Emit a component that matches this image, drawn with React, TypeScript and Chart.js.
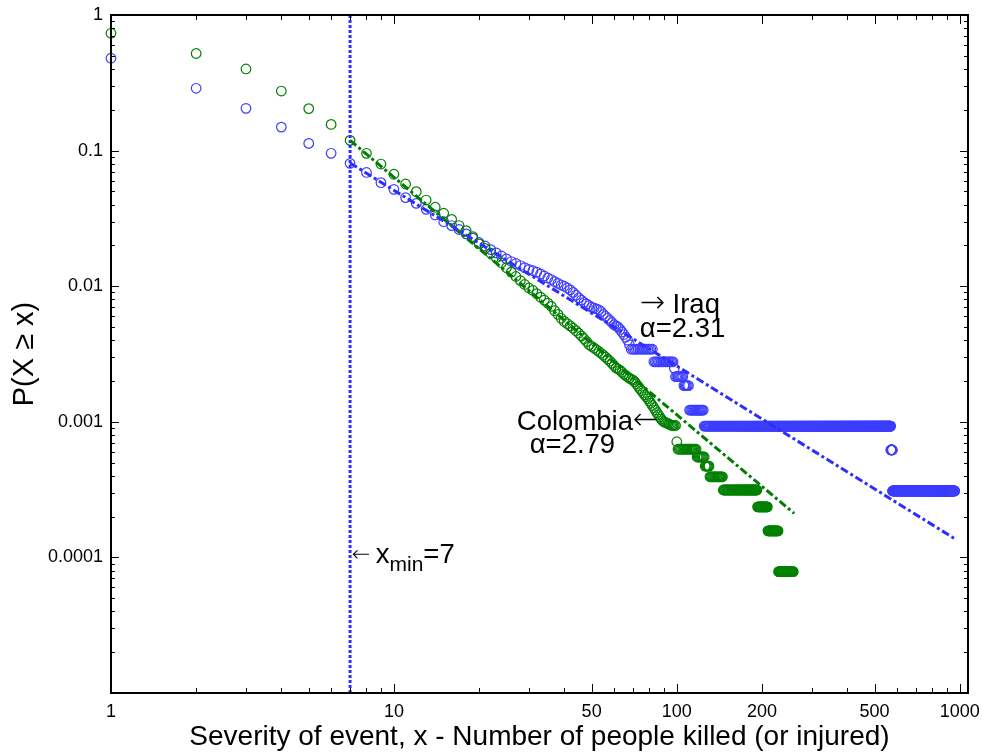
import React, { useEffect, useRef } from 'react';
import { Chart, registerables } from 'chart.js';

Chart.register(...registerables);

const FONT = '"Liberation Sans", Arial, Helvetica, sans-serif';
const ARROW_FONT = '"DejaVu Sans", "Liberation Sans", sans-serif';

// Axis ranges and tick labels
const X_MIN = 1;
const X_MAX = 1070;
const Y_MIN = 1e-5;
const Y_MAX = 1;
const xTickValues = [1, 10, 50, 100, 200, 500, 1000];
const yTickValues = [1, 0.1, 0.01, 0.001, 0.0001];

const xTitle = 'Severity of event, x - Number of people killed (or injured)';
const yTitle = 'P(X \u2265 x)';

// Iraq: P(X >= x) for x = 1, 2, 3, ...
const iraqHead = [
  0.48, 0.288, 0.205, 0.149, 0.113, 0.0955, 0.0805, 0.069, 0.058, 0.0518,
  0.045, 0.0408, 0.0369, 0.0335, 0.0299, 0.028, 0.0262, 0.0243, 0.0226, 0.021,
  0.0198, 0.0186, 0.0176, 0.0167, 0.0159, 0.0152, 0.0147, 0.0142, 0.0137, 0.0133,
  0.013, 0.0127, 0.0123, 0.0119, 0.0115, 0.0112, 0.0108, 0.0105, 0.0102, 0.01,
  0.0097, 0.0094, 0.009, 0.0086, 0.0082, 0.0079, 0.0076, 0.0074, 0.0072, 0.007,
  0.0069, 0.0068, 0.0067, 0.0065, 0.0062, 0.006, 0.0058, 0.0056, 0.0054, 0.0052,
  0.0051, 0.005, 0.0048, 0.0046, 0.0044, 0.0042, 0.004, 0.0037,
];
// Iraq tail plateaus: [first x, last x, P(X >= x)]
const iraqTailRuns = [
  [69, 82, 0.00343],
  [83, 97, 0.00277],
  [98, 98, 0.00248],
  [99, 105, 0.00215],
  [106, 110, 0.00185],
  [111, 124, 0.00122],
  [125, 570, 0.00093],
  [571, 578, 0.00062],
  [579, 960, 0.000309],
];

// Colombia: P(X >= x) for x = 1, 2, 3, ...
const colombiaHead = [
  0.733, 0.52, 0.4, 0.275, 0.204, 0.156, 0.119, 0.0955, 0.0796, 0.0669,
  0.0567, 0.0498, 0.0432, 0.0382, 0.0345, 0.0311, 0.028, 0.0257, 0.0232, 0.0205,
  0.019, 0.0175, 0.0162, 0.0149, 0.0137, 0.0127, 0.0118, 0.011, 0.0103, 0.0097,
  0.0093, 0.0088, 0.0083, 0.0079, 0.0075, 0.0071, 0.0066, 0.0062, 0.0058, 0.0055,
  0.0053, 0.0051, 0.0049, 0.0047, 0.0045, 0.0043, 0.0041, 0.0039, 0.0037, 0.0036,
  0.0035, 0.0034, 0.0033, 0.0032, 0.0031, 0.003, 0.0029, 0.0028, 0.0027, 0.0026,
  0.0025, 0.00245, 0.0024, 0.00232, 0.00225, 0.0022, 0.00214, 0.0021, 0.00206, 0.00203,
  0.00197, 0.0019, 0.00183, 0.00176, 0.0017, 0.00164, 0.00158, 0.00153, 0.00148, 0.00142,
  0.00137, 0.00132, 0.00127, 0.00122, 0.00117, 0.00113, 0.00109, 0.00105, 0.00102, 0.001,
  0.00099, 0.00098, 0.00097, 0.00096, 0.00095, 0.00094, 0.00094, 0.00094, 0.00094, 0.000713,
];
// Colombia tail plateaus: [first x, last x, P(X >= x)]
const colombiaTailRuns = [
  [101, 117, 0.000628],
  [118, 125, 0.00055],
  [126, 130, 0.000471],
  [131, 145, 0.000393],
  [146, 192, 0.000314],
  [193, 209, 0.000236],
  [210, 228, 0.000157],
  [229, 258, 0.0000785],
];

// Power-law fits (end points) and x_min
const xMinValue = 7;
const iraqFitX = [7, 968];
const iraqFitY = [0.081, 0.000136];
const colombiaFitX = [7, 260];
const colombiaFitY = [0.119, 0.000211];
const iraqAlpha = '2.31';
const colombiaAlpha = '2.79';

const BLUE_PTS = 'rgb(62,62,255)';
const GREEN_PTS = 'rgb(0,128,0)';
const BLUE_LINE = 'rgb(45,45,255)';
const GREEN_LINE = 'rgb(0,125,0)';

function toPoints(head: number[], runs: number[][]) {
  const pts = head.map((y, i) => ({ x: i + 1, y }));
  runs.forEach(([s, e, v]) => {
    for (let x = s; x <= e; x++) pts.push({ x, y: v });
  });
  return pts;
}

function pairs(xs: number[], ys: number[]) {
  return xs.map((x, i) => ({ x, y: ys[i] }));
}

const framePlugin = {
  id: 'frameTicks',
  afterDatasetsDraw(chart: any) {
    const { ctx, chartArea: a, scales } = chart;
    const xs = scales.x;
    const ys = scales.y;
    ctx.save();
    ctx.strokeStyle = '#000';
    ctx.lineWidth = 1;
    ctx.beginPath();
    for (let d = 0; d <= 3; d++) {
      for (let m = 1; m <= 9; m++) {
        const v = m * Math.pow(10, d);
        if (v < X_MIN || v > X_MAX) continue;
        const major = xTickValues.includes(v);
        const len = major ? 9 : 5;
        const px = Math.round(xs.getPixelForValue(v)) + 0.5;
        ctx.moveTo(px, a.bottom);
        ctx.lineTo(px, a.bottom - len);
        ctx.moveTo(px, a.top);
        ctx.lineTo(px, a.top + len);
      }
    }
    for (let d = -5; d <= 0; d++) {
      for (let m = 1; m <= 9; m++) {
        const v = m * Math.pow(10, d);
        if (v < Y_MIN * 0.999 || v > Y_MAX * 1.001) continue;
        const len = m === 1 ? 8 : 4;
        const py = Math.round(ys.getPixelForValue(v)) + 0.5;
        ctx.moveTo(a.left, py);
        ctx.lineTo(a.left + len, py);
        ctx.moveTo(a.right, py);
        ctx.lineTo(a.right - len, py);
      }
    }
    ctx.stroke();
    ctx.lineWidth = 2;
    ctx.strokeRect(a.left, a.top, a.right - a.left, a.bottom - a.top);
    ctx.restore();
  },
  afterDraw(chart: any) {
    const { ctx, scales } = chart;
    const xs = scales.x;
    const ys = scales.y;
    const P = (x: number, y: number) => [xs.getPixelForValue(x), ys.getPixelForValue(y)];
    ctx.save();
    ctx.fillStyle = '#000';
    ctx.textAlign = 'left';
    ctx.textBaseline = 'alphabetic';
    const big = `27.5px ${FONT}`;
    const arrow = `200 30px ${ARROW_FONT}`;
    const drawParts = (parts: [string, string, number][], x0: number, y0: number) => {
      let cx = x0;
      parts.forEach(([t, f, dy]) => {
        ctx.font = f;
        ctx.fillText(t, cx, y0 + dy);
        cx += ctx.measureText(t).width;
      });
      return cx;
    };
    let [px, py] = P(74, 0.00634);
    drawParts([['\u2192', arrow, -1], [' Iraq', big, 0]], px, py);
    [px, py] = P(74, 0.00422);
    ctx.font = big;
    ctx.fillText('\u03b1=' + iraqAlpha, px, py);
    [px, py] = P(27.2, 0.00087);
    drawParts([['Colombia', big, 0], ['\u2190', arrow, -1]], px, py);
    [px, py] = P(30.2, 0.000589);
    ctx.font = big;
    ctx.fillText('\u03b1=' + colombiaAlpha, px, py);
    // x_min annotation
    [px, py] = P(7.1, 0.0000909);
    drawParts(
      [
        ['\u2190', `200 22px ${ARROW_FONT}`, -2],
        ['\u2009', big, 0],
        ['x', big, 0],
        ['min', `21px ${FONT}`, 8],
        ['=' + xMinValue, big, 0],
      ],
      px,
      py
    );
    ctx.restore();
  },
};

export default function App() {
  const ref = useRef<HTMLCanvasElement | null>(null);

  useEffect(() => {
    if (!ref.current) return;
    const iraqPts = toPoints(iraqHead, iraqTailRuns);
    const colombiaPts = toPoints(colombiaHead, colombiaTailRuns);
    const lineBase = { showLine: true, pointRadius: 0, fill: false, clip: false as any };
    const chart = new Chart(ref.current, {
      type: 'scatter',
      data: {
        datasets: [
          {
            ...lineBase,
            label: 'Iraq fit',
            data: pairs(iraqFitX, iraqFitY),
            borderColor: BLUE_LINE,
            borderWidth: 3,
            borderDash: [8, 3, 3, 3],
          },
          {
            ...lineBase,
            label: 'Colombia fit',
            data: pairs(colombiaFitX, colombiaFitY),
            borderColor: GREEN_LINE,
            borderWidth: 3,
            borderDash: [8, 3, 3, 3],
          },
          {
            ...lineBase,
            label: 'xmin',
            data: [
              { x: xMinValue, y: Y_MIN },
              { x: xMinValue, y: Y_MAX },
            ],
            borderColor: BLUE_LINE,
            borderWidth: 3,
            borderDash: [3, 2],
          },
          {
            label: 'Colombia',
            data: colombiaPts,
            showLine: false,
            pointStyle: 'circle',
            pointRadius: 4.8,
            pointBorderWidth: 1.2,
            pointBorderColor: GREEN_PTS,
            pointBackgroundColor: 'rgba(0,0,0,0)',
            borderColor: GREEN_PTS,
            backgroundColor: 'rgba(0,0,0,0)',
            clip: false as any,
          },
          {
            label: 'Iraq',
            data: iraqPts,
            showLine: false,
            pointStyle: 'circle',
            pointRadius: 4.8,
            pointBorderWidth: 1.2,
            pointBorderColor: BLUE_PTS,
            pointBackgroundColor: 'rgba(0,0,0,0)',
            borderColor: BLUE_PTS,
            backgroundColor: 'rgba(0,0,0,0)',
            clip: false as any,
          },
        ],
      },
      options: {
        animation: false,
        responsive: false,
        devicePixelRatio: 1,
        events: [],
        layout: { padding: { left: 8, right: 14, top: 15, bottom: 0 } },
        plugins: {
          legend: { display: false },
          tooltip: { enabled: false },
          title: { display: false },
        },
        scales: {
          x: {
            type: 'logarithmic',
            position: 'bottom',
            min: X_MIN,
            max: X_MAX,
            bounds: 'data',
            grid: { display: false, drawTicks: false },
            border: { display: false },
            ticks: {
              autoSkip: false,
              maxRotation: 0,
              minRotation: 0,
              padding: 8,
              color: '#000',
              font: { family: FONT, size: 18 },
              callback: (v: any) => String(v),
            },
            title: {
              display: true,
              text: xTitle,
              color: '#000',
              font: { family: FONT, size: 28 },
              padding: { top: 0, bottom: 0 },
            },
            afterBuildTicks: (s: any) => {
              s.ticks = xTickValues.map((v) => ({ value: v }));
            },
            afterFit: (s: any) => {
              s.height = 61;
              s.paddingLeft = 0;
              s.paddingRight = 0;
            },
          },
          y: {
            type: 'logarithmic',
            position: 'left',
            min: Y_MIN,
            max: Y_MAX,
            bounds: 'data',
            grid: { display: false, drawTicks: false },
            border: { display: false },
            ticks: {
              autoSkip: false,
              padding: 8,
              color: '#000',
              font: { family: FONT, size: 18 },
              callback: (v: any) => String(v),
            },
            title: {
              display: true,
              text: yTitle,
              color: '#000',
              font: { family: FONT, size: 29 },
              padding: { top: 0, bottom: 0 },
            },
            afterBuildTicks: (s: any) => {
              s.ticks = yTickValues.map((v) => ({ value: v }));
            },
            afterFit: (s: any) => {
              s.width = 103;
              s.paddingTop = 0;
              s.paddingBottom = 0;
            },
          },
        },
      } as any,
      plugins: [framePlugin],
    });
    return () => chart.destroy();
  }, []);

  return (
    <div style={{ position: 'absolute', left: 0, top: 0, width: 982, height: 754, background: '#fff' }}>
      <canvas ref={ref} width={982} height={754} style={{ display: 'block', width: 982, height: 754 }} />
    </div>
  );
}
